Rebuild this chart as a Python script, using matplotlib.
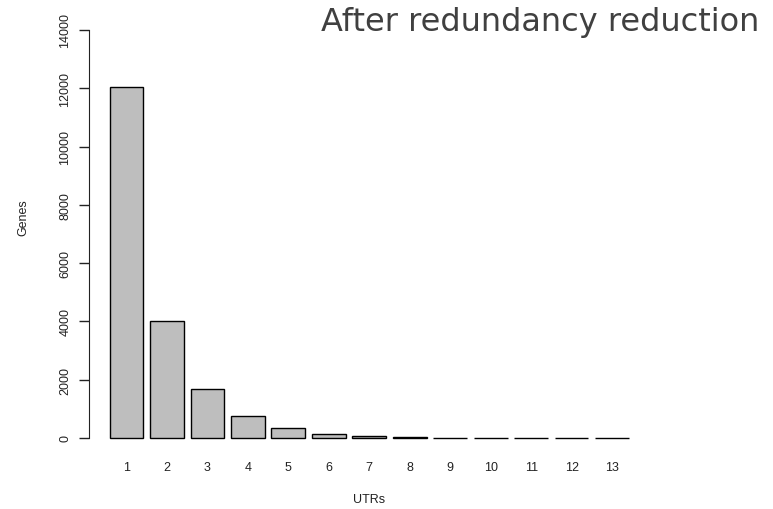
import matplotlib.pyplot as plt
import numpy as np

# UTRs per gene after redundancy reduction
utrs = ["1", "2", "3", "4", "5", "6", "7", "8", "9", "10", "11", "12", "13"]
genes = [12050, 4010, 1680, 760, 340, 140, 65, 28, 12, 6, 4, 3, 2]
y_ticks = [0, 2000, 4000, 6000, 8000, 10000, 12000, 14000]

plt.rcParams['font.family'] = ['Liberation Sans', 'DejaVu Sans']

fig = plt.figure(figsize=(7.73, 5.10), dpi=100)
ax = fig.add_axes([0.1146, 0.1073, 0.735, 0.864])

# R barplot layout: width 1, space 0.2
x = 0.7 + 1.2 * np.arange(len(utrs))
ax.bar(x, genes, width=1.0, color='#bebebe', edgecolor='black', linewidth=1.0)

ax.set_xlim(-0.424, 16.424)
ax.set_ylim(-560, 14560)

for s in ['top', 'right', 'bottom']:
    ax.spines[s].set_visible(False)
ax.spines['left'].set_bounds(0, 14000)
ax.spines['left'].set_color('#222222')

ax.set_yticks(y_ticks)
ax.set_yticklabels([str(t) for t in y_ticks], rotation=90, va='center')
ax.tick_params(axis='y', length=7.5, width=1, colors='#222222', labelsize=9, pad=5)
ax.set_xticks(x)
ax.set_xticklabels(utrs)
ax.tick_params(axis='x', length=0, labelsize=9, pad=5, colors='#222222')

ax.set_xlabel('UTRs', fontsize=9, color='#222222')
ax.set_ylabel('Genes', fontsize=9, color='#222222')
ax.xaxis.set_label_coords(0.493, -0.088)
ax.yaxis.set_label_coords(-0.104, 0.54)

fig.text(0.983, 0.955, 'After redundancy reduction', ha='right', va='center',
         fontsize=23, color='#404040', family='DejaVu Sans')

fig.savefig('out.png', dpi=100)
